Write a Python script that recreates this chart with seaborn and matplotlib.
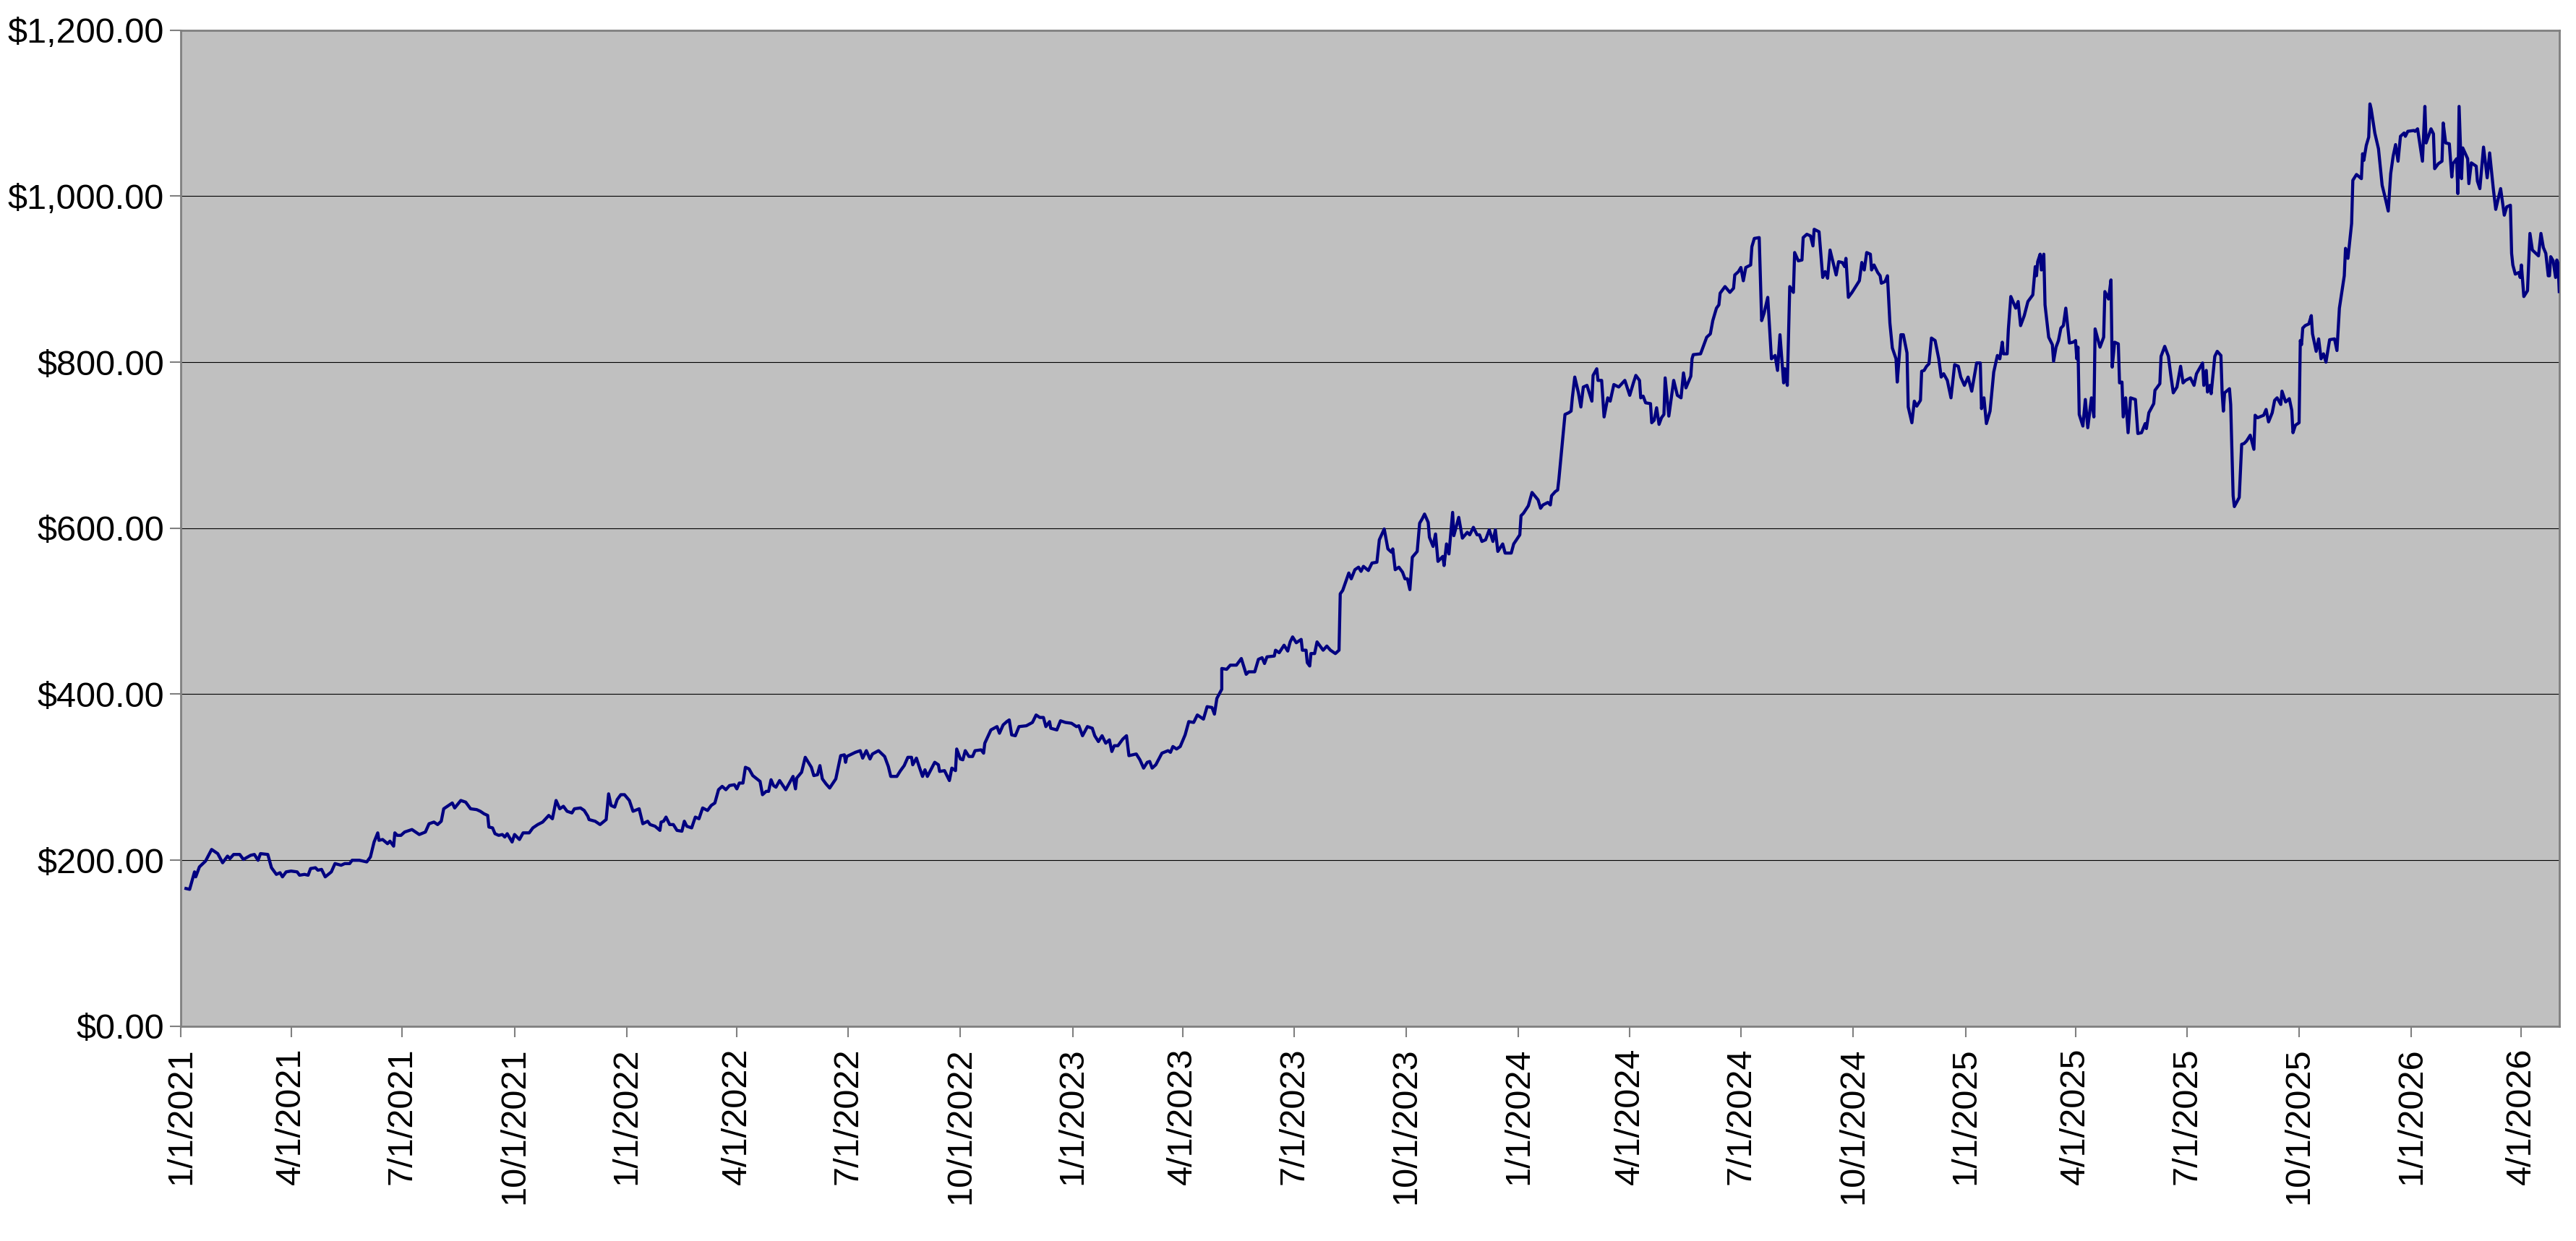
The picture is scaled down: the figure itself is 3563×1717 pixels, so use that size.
import pandas as pd
import numpy as np
import matplotlib
matplotlib.use("Agg")
import matplotlib.pyplot as plt
import matplotlib.dates as mdates
from matplotlib.ticker import FuncFormatter
import seaborn as sns

# (gün sayısı 1/1/2021'den itibaren, fiyat)
pts_2021 = [(4, 166), (7, 165), (11, 186), (12, 180), (15, 192), (20, 199), (25, 213), (30, 208),
            (34, 197), (38, 205), (40, 202), (43, 207), (48, 207), (51, 201), (57, 206), (60, 207),
            (63, 200), (65, 208), (71, 207), (74, 191), (78, 183), (81, 185), (83, 180), (86, 186),
            (90, 187), (95, 186), (97, 182), (101, 183), (104, 182), (106, 190), (110, 191), (112, 188),
            (115, 189), (118, 180), (123, 186), (126, 196), (131, 194), (134, 196), (138, 196), (140, 200),
            (146, 200), (152, 198), (155, 204), (158, 222), (161, 233), (162, 224), (165, 225), (169, 220),
            (171, 223), (174, 217), (175, 233), (177, 230), (180, 230), (183, 234), (189, 237), (195, 231),
            (200, 234), (203, 244), (207, 246), (210, 243), (213, 247), (215, 262), (219, 266), (222, 269),
            (224, 263), (229, 272), (233, 270), (237, 262), (242, 261), (245, 259), (248, 256), (251, 254),
            (252, 240), (255, 239), (257, 232), (260, 230), (263, 231), (265, 228), (267, 232), (271, 222),
            (273, 231), (277, 225), (280, 233), (285, 233), (288, 239), (292, 243), (296, 246), (301, 254),
            (304, 250), (307, 272), (310, 262), (313, 265), (316, 259), (320, 257), (322, 262), (327, 263),
            (330, 260), (333, 253), (334, 249), (339, 247), (343, 243), (348, 249), (350, 280), (352, 266),
            (355, 264), (357, 273), (360, 279), (363, 279)]

pts_2022 = [(367, 272), (370, 259), (375, 262), (378, 244), (382, 247), (384, 243), (388, 241), (392, 236),
            (393, 246), (395, 247), (397, 252), (400, 243), (403, 243), (406, 236), (410, 235), (412, 247),
            (414, 241), (418, 239), (421, 252), (424, 250), (427, 263), (431, 260), (434, 266), (437, 269),
            (440, 285), (443, 289), (446, 285), (449, 290), (453, 291), (455, 286), (457, 293), (460, 293),
            (462, 312), (465, 310), (468, 302), (474, 295), (476, 279), (479, 283), (481, 283), (483, 297),
            (485, 290), (487, 288), (490, 296), (495, 285), (501, 301), (503, 286), (504, 299), (508, 306),
            (511, 324), (516, 312), (518, 302), (521, 303), (523, 314), (525, 298), (528, 292), (531, 287),
            (536, 298), (540, 326), (543, 327), (544, 318), (545, 325), (552, 330), (556, 332), (558, 323),
            (561, 332), (564, 322), (566, 328), (571, 332), (576, 325), (579, 313), (581, 301), (586, 301),
            (589, 308), (592, 314), (595, 324), (598, 324), (599, 315), (602, 323), (604, 314), (607, 301),
            (609, 309), (611, 301), (617, 318), (620, 315), (621, 307), (625, 308), (629, 296), (631, 311),
            (634, 308), (635, 334), (638, 322), (640, 321), (642, 332), (645, 325), (648, 325), (650, 332),
            (655, 333), (657, 329), (658, 341), (663, 357), (668, 361), (670, 353), (673, 363), (676, 367),
            (678, 369), (680, 351), (683, 350), (686, 361), (692, 362), (697, 366), (700, 375), (703, 372),
            (706, 372), (708, 361), (711, 367), (712, 359), (717, 357), (720, 368), (724, 366), (729, 365)]

pts_2023 = [(733, 361), (735, 362), (738, 350), (742, 361), (746, 359), (748, 350), (751, 343), (754, 350),
            (757, 341), (760, 345), (762, 331), (764, 338), (767, 338), (771, 346), (774, 350), (776, 326),
            (782, 328), (785, 321), (788, 311), (791, 318), (793, 319), (795, 311), (798, 315), (803, 329),
            (808, 332), (810, 330), (812, 337), (815, 334), (818, 337), (822, 351), (825, 367), (829, 366),
            (832, 375), (837, 370), (840, 385), (844, 384), (846, 376), (848, 395), (852, 406), (852, 431),
            (856, 430), (859, 435), (864, 435), (868, 443), (872, 424), (874, 427), (879, 427), (882, 442),
            (885, 444), (887, 437), (889, 445), (895, 446), (896, 453), (899, 450), (903, 459), (906, 452),
            (908, 463), (910, 469), (913, 462), (917, 466), (918, 453), (921, 453), (922, 438), (924, 434),
            (925, 449), (928, 449), (930, 463), (935, 453), (938, 458), (941, 453), (945, 449), (948, 453),
            (949, 521), (951, 525), (956, 546), (958, 539), (961, 550), (964, 553), (966, 548), (968, 554),
            (972, 549), (975, 558), (979, 559), (981, 586), (985, 599), (988, 575), (991, 571), (992, 575),
            (994, 550), (997, 553), (1000, 547), (1002, 539), (1004, 539), (1006, 526), (1008, 565),
            (1012, 572), (1014, 606), (1016, 611), (1018, 617), (1021, 607), (1022, 589), (1025, 578),
            (1027, 593), (1029, 560), (1033, 566), (1034, 555), (1036, 581), (1038, 569), (1041, 619),
            (1042, 591), (1046, 613), (1049, 588), (1053, 595), (1055, 592), (1058, 601), (1061, 592),
            (1063, 592), (1065, 584), (1068, 586), (1071, 598), (1074, 584), (1076, 598), (1078, 572),
            (1082, 581), (1084, 570), (1089, 570), (1091, 581)]

pts_2024 = [(1096, 592), (1097, 615), (1099, 618), (1103, 627), (1106, 643), (1111, 634), (1113, 624),
            (1115, 628), (1119, 631), (1121, 628), (1122, 639), (1125, 644), (1127, 646), (1128, 659),
            (1131, 706), (1133, 737), (1136, 739), (1138, 741), (1139, 757), (1141, 782), (1144, 763),
            (1146, 746), (1148, 770), (1151, 772), (1155, 753), (1156, 784), (1159, 792), (1160, 778),
            (1163, 778), (1165, 734), (1168, 757), (1170, 753), (1173, 773), (1177, 770), (1182, 778),
            (1186, 760), (1189, 775), (1191, 784), (1194, 778), (1195, 757), (1197, 759), (1199, 751),
            (1203, 750), (1204, 727), (1206, 730), (1208, 745), (1210, 725), (1212, 733), (1214, 737),
            (1215, 781), (1218, 735), (1222, 778), (1225, 760), (1228, 757), (1230, 787), (1232, 769),
            (1236, 783), (1237, 804), (1238, 809), (1244, 810), (1249, 830), (1252, 834), (1254, 850),
            (1257, 865), (1259, 869), (1260, 883), (1264, 891), (1268, 884), (1271, 889), (1272, 905),
            (1275, 909), (1277, 914), (1279, 898), (1281, 914), (1285, 917), (1286, 939), (1288, 949),
            (1292, 950), (1294, 850), (1296, 859), (1299, 878), (1302, 804), (1305, 808), (1307, 790),
            (1309, 833), (1312, 775), (1313, 792), (1315, 772), (1317, 891), (1320, 884), (1321, 932),
            (1324, 922), (1327, 923), (1328, 950), (1331, 954), (1334, 952), (1336, 940), (1337, 960),
            (1341, 957), (1344, 902), (1346, 909), (1348, 901), (1350, 935), (1352, 923), (1355, 905),
            (1357, 921), (1360, 920), (1362, 915), (1363, 925), (1365, 878), (1368, 884), (1371, 891),
            (1374, 898), (1376, 920), (1378, 911), (1380, 932), (1383, 930), (1384, 911), (1386, 917),
            (1389, 908), (1391, 904), (1392, 895), (1395, 897), (1397, 904), (1399, 847), (1401, 817),
            (1404, 804), (1405, 776), (1408, 833), (1410, 833), (1413, 811), (1414, 746), (1417, 727),
            (1419, 753), (1421, 747), (1424, 754), (1425, 789), (1427, 790), (1429, 795), (1431, 798),
            (1433, 829), (1436, 826), (1439, 804), (1441, 782), (1443, 786), (1446, 778), (1449, 757),
            (1452, 797), (1455, 795), (1457, 782), (1460, 772)]

pts_2025 = [(1463, 782), (1466, 765), (1470, 799), (1473, 799), (1474, 744), (1476, 757), (1478, 726),
            (1481, 741), (1484, 788), (1487, 808), (1489, 804), (1491, 824), (1492, 810), (1495, 810),
            (1496, 840), (1498, 879), (1502, 865), (1504, 873), (1506, 844), (1509, 856), (1512, 873),
            (1516, 881), (1518, 915), (1519, 904), (1520, 921), (1522, 930), (1523, 911), (1525, 930),
            (1526, 869), (1529, 830), (1532, 821), (1533, 801), (1535, 818), (1537, 826), (1539, 841),
            (1541, 844), (1543, 865), (1546, 823), (1549, 824), (1551, 826), (1552, 804), (1553, 818),
            (1554, 737), (1557, 723), (1559, 755), (1561, 721), (1564, 757), (1566, 734), (1567, 840),
            (1571, 818), (1574, 830), (1575, 885), (1578, 876), (1580, 899), (1581, 794), (1583, 824),
            (1586, 822), (1587, 775), (1589, 776), (1590, 734), (1592, 757), (1594, 715), (1596, 757),
            (1600, 755), (1602, 714), (1605, 715), (1608, 726), (1609, 720), (1611, 739), (1615, 750),
            (1616, 766), (1620, 774), (1621, 807), (1624, 819), (1627, 807), (1629, 784), (1631, 763),
            (1634, 770), (1637, 795), (1639, 775), (1641, 778), (1645, 781), (1648, 772), (1650, 786),
            (1655, 799), (1656, 772), (1658, 790), (1659, 764), (1661, 772), (1662, 762), (1665, 807),
            (1667, 813), (1670, 808), (1671, 763), (1672, 741), (1673, 763), (1677, 768), (1678, 749),
            (1680, 639), (1681, 626), (1685, 637), (1687, 701), (1689, 702), (1691, 705), (1694, 712),
            (1697, 695), (1698, 736), (1700, 733), (1705, 736), (1707, 743), (1709, 728), (1712, 739),
            (1714, 754), (1716, 757), (1719, 749), (1720, 765), (1723, 752), (1726, 756), (1728, 742),
            (1729, 715), (1731, 724), (1734, 727), (1735, 826), (1736, 821), (1737, 841), (1739, 844),
            (1742, 846), (1744, 856), (1745, 834), (1748, 813), (1750, 828), (1752, 804), (1754, 810),
            (1756, 800), (1759, 827), (1763, 828), (1765, 814), (1767, 865), (1771, 904), (1772, 937),
            (1774, 925), (1777, 967), (1778, 1019), (1781, 1026), (1785, 1021), (1786, 1051), (1787, 1043),
            (1789, 1061), (1791, 1071), (1792, 1111), (1793, 1105), (1796, 1076), (1799, 1057), (1802, 1013),
            (1804, 1001), (1807, 982), (1809, 1027), (1811, 1048), (1813, 1062), (1815, 1042), (1817, 1072),
            (1820, 1076), (1821, 1072), (1823, 1078)]

pts_2026 = [(1828, 1079), (1829, 1078), (1831, 1081), (1835, 1042), (1837, 1108), (1838, 1064), (1842, 1081),
            (1844, 1075), (1845, 1033), (1848, 1039), (1851, 1042), (1852, 1088), (1854, 1064), (1857, 1063),
            (1859, 1023), (1860, 1039), (1863, 1045), (1864, 1003), (1865, 1108), (1867, 1021), (1868, 1058),
            (1872, 1045), (1873, 1015), (1875, 1040), (1879, 1036), (1880, 1018), (1882, 1009), (1885, 1059),
            (1888, 1022), (1890, 1052), (1893, 1009), (1895, 984), (1899, 1009), (1902, 977), (1904, 987),
            (1907, 989), (1908, 931), (1909, 917), (1911, 906), (1914, 908), (1915, 902), (1916, 917),
            (1918, 879), (1921, 886), (1923, 955), (1925, 935), (1930, 928), (1932, 955), (1934, 938),
            (1936, 931), (1938, 904), (1939, 904), (1940, 927), (1942, 922), (1944, 902), (1945, 923),
            (1946, 919), (1947, 885)]

start = pd.Timestamp("2021-01-01")
tum = pts_2021 + pts_2022 + pts_2023 + pts_2024 + pts_2025 + pts_2026
df = pd.DataFrame(tum, columns=["gun", "fiyat"])
df["tarih"] = start + pd.to_timedelta(df["gun"], unit="D")

plt.rcParams["font.family"] = ["Liberation Sans", "DejaVu Sans"]

fig = plt.figure(figsize=(35.63, 17.17), dpi=100)
ax = fig.add_axes([0.0703, 0.173, 0.9232, 0.8028])
ax.set_facecolor("#C0C0C0")

sns.lineplot(data=df, x="tarih", y="fiyat", estimator=None, sort=False,
             color="#000080", linewidth=3.1, ax=ax, zorder=3)

ax.set_ylim(0, 1200)
ax.set_yticks(np.arange(0, 1201, 200))
ax.yaxis.set_major_formatter(FuncFormatter(lambda v, p: f"${v:,.2f}"))
ax.grid(axis="y", color="black", linewidth=0.8, zorder=1)
ax.set_axisbelow(True)

ax.set_xlim(start, start + pd.Timedelta(days=1947))
ax.xaxis.set_major_locator(mdates.MonthLocator(bymonth=[1, 4, 7, 10], bymonthday=1))
ax.xaxis.set_major_formatter(FuncFormatter(
    lambda v, p: (lambda d: f"{d.month}/{d.day}/{d.year}")(mdates.num2date(v))))

ax.tick_params(axis="x", labelrotation=90, labelsize=35, length=11, width=1.5,
               color="#808080", pad=10)
ax.tick_params(axis="y", labelsize=35, length=11, width=1.5, color="#808080", pad=6)

for s in ax.spines.values():
    s.set_color("#808080")
    s.set_linewidth(2)

ax.set_xlabel("")
ax.set_ylabel("")

fig.savefig("out.png", dpi=100, facecolor="white")
